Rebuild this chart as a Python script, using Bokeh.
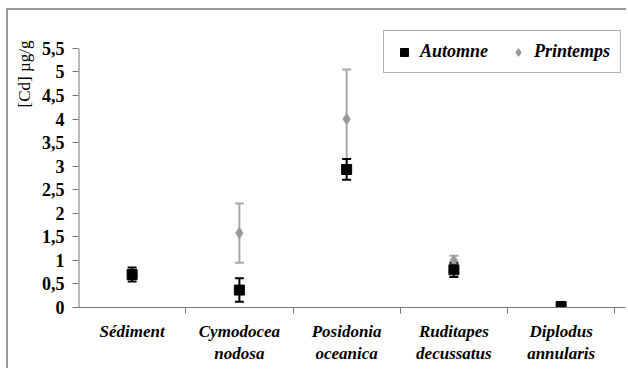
from bokeh.plotting import figure
from bokeh.models import (ColumnDataSource, Whisker, FixedTicker, Legend, LegendItem, Title)
from bokeh.embed import file_html
from bokeh.resources import INLINE

categories = ["Sédiment", "Cymodocea\nnodosa", "Posidonia\noceanica", "Ruditapes\ndecussatus", "Diplodus\nannularis"]
automne = [0.70, 0.37, 2.93, 0.80, 0.02]
automne_err = [0.15, 0.25, 0.22, 0.15, 0.0]
printemps_cats = [1, 2, 3, 4]
printemps = [1.58, 4.00, 1.00, 0.02]
printemps_err = [0.63, 1.05, 0.10, 0.0]
y_ticks = [0, 0.5, 1, 1.5, 2, 2.5, 3, 3.5, 4, 4.5, 5, 5.5]

FONT = "Liberation Serif"
AXIS_COLOR = "#777777"

xa = [i + 0.5 for i in range(len(categories))]
src_a = ColumnDataSource(dict(x=xa, y=automne,
                              lo=[v - e for v, e in zip(automne, automne_err)],
                              hi=[v + e for v, e in zip(automne, automne_err)]))
xp = [i + 0.5 for i in printemps_cats]
src_p = ColumnDataSource(dict(x=xp, y=printemps,
                              lo=[v - e for v, e in zip(printemps, printemps_err)],
                              hi=[v + e for v, e in zip(printemps, printemps_err)]))

p = figure(width=620, height=360, x_range=(0, len(categories) + 0.1), y_range=(0, 5.88),
           output_backend="svg", toolbar_location=None,
           min_border_left=70, min_border_right=3, min_border_top=20, min_border_bottom=63,
           styles={"margin-left": "6px", "margin-top": "8px",
                   "border-top": "2px solid #9a9a9a", "border-left": "2px solid #9a9a9a"})
p.outline_line_color = None
p.xgrid.visible = False
p.ygrid.visible = False
p.background_fill_color = "white"
p.border_fill_color = "white"

# y axis line only up to the last tick
p.segment(x0=[0], y0=[0], x1=[0], y1=[max(y_ticks)], line_color=AXIS_COLOR, line_width=2)

# error bars
wp = Whisker(source=src_p, base="x", lower="lo", upper="hi", line_color="#a8a8a8", line_width=2)
for h in (wp.upper_head, wp.lower_head):
    h.size = 9
    h.line_color = "#a8a8a8"
    h.line_width = 2
p.add_layout(wp)
rp = p.scatter("x", "y", source=src_p, marker="diamond", size=11, color="#999999")

wa = Whisker(source=src_a, base="x", lower="lo", upper="hi", line_color="black", line_width=2)
for h in (wa.upper_head, wa.lower_head):
    h.size = 9
    h.line_width = 2
p.add_layout(wa)
ra = p.scatter("x", "y", source=src_a, marker="square", size=10, color="black")

# axes
p.xaxis.ticker = FixedTicker(ticks=xa, minor_ticks=list(range(1, len(categories) + 1)))
p.xaxis.major_label_overrides = {x: c for x, c in zip(xa, categories)}
p.xaxis.major_tick_line_color = None
p.xaxis.minor_tick_out = 6
p.xaxis.minor_tick_in = 0
p.xaxis.minor_tick_line_color = AXIS_COLOR
p.xaxis.axis_line_color = AXIS_COLOR
p.xaxis.major_label_text_font = FONT
p.xaxis.major_label_text_font_style = "bold italic"
p.xaxis.major_label_text_font_size = "17px"
p.xaxis.major_label_text_color = "black"
p.xaxis.major_label_standoff = 8

p.yaxis.ticker = FixedTicker(ticks=y_ticks)
p.yaxis.major_label_overrides = {t: (str(t).replace(".", ",") if t != int(t) else str(int(t))) for t in y_ticks}
p.yaxis.minor_tick_line_color = None
p.yaxis.major_tick_out = 6
p.yaxis.major_tick_in = 0
p.yaxis.major_tick_line_color = AXIS_COLOR
p.yaxis.axis_line_color = None
p.yaxis.major_label_text_font = FONT
p.yaxis.major_label_text_font_style = "bold"
p.yaxis.major_label_text_font_size = "18px"
p.yaxis.major_label_text_color = "black"
p.yaxis.major_label_standoff = 8

ytitle = Title(text="[Cd] µg/g", align="right", offset=10, text_font=FONT,
               text_font_size="17px", text_font_style="normal", text_color="black",
               standoff=9)
p.add_layout(ytitle, "left")

legend = Legend(items=[LegendItem(label="Automne", renderers=[ra]),
                       LegendItem(label="Printemps", renderers=[rp])],
                orientation="horizontal", location=(305, 234),
                label_text_font=FONT, label_text_font_style="bold italic",
                label_text_font_size="18px", label_text_color="black",
                border_line_color="#666666", border_line_width=1,
                background_fill_color="white", background_fill_alpha=1,
                padding=10, spacing=20, glyph_width=20, label_standoff=6, margin=0)
p.add_layout(legend, "center")

open("out.html", "w").write(file_html(p, INLINE))
